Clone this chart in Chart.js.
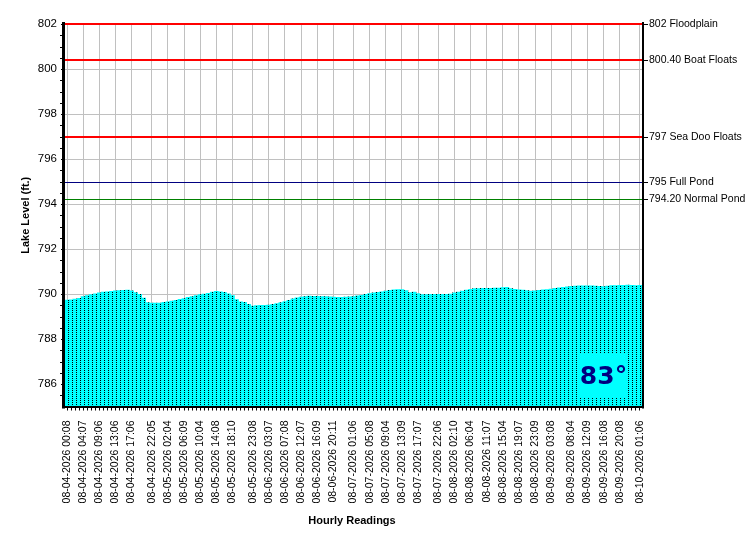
<!DOCTYPE html>
<html>
<head>
<meta charset="utf-8">
<script src="https://cdn.jsdelivr.net/npm/chart.js@4/dist/chart.umd.min.js"></script>
<style>
  body { margin: 0; background: #fff; }
  #wrap { width: 750px; height: 550px; }
</style>
</head>
<body>
<div id="wrap"><canvas id="lakeChart" width="750" height="550"></canvas></div>
<script>
// hourly lake level readings (ft.)
const readings = [
  789.73, 789.74, 789.77, 789.81, 789.88, 789.93, 789.97, 790.01, 790.05, 790.08,
  790.10, 790.12, 790.14, 790.15, 790.16, 790.17, 790.14, 790.06, 789.98, 789.82,
  789.62, 789.60, 789.60, 789.60, 789.63, 789.65, 789.68, 789.72, 789.76, 789.80,
  789.85, 789.89, 789.93, 789.97, 790.00, 790.03, 790.08, 790.12, 790.10, 790.07,
  790.01, 789.93, 789.75, 789.65, 789.63, 789.54, 789.46, 789.48, 789.50, 789.50,
  789.51, 789.54, 789.57, 789.62, 789.66, 789.72, 789.78, 789.83, 789.86, 789.89,
  789.91, 789.90, 789.90, 789.89, 789.88, 789.87, 789.86, 789.85, 789.85, 789.86,
  789.87, 789.89, 789.92, 789.94, 789.98, 790.02, 790.05, 790.07, 790.10, 790.13,
  790.16, 790.19, 790.20, 790.20, 790.15, 790.06, 790.08, 790.02, 789.97, 789.97,
  789.98, 789.98, 789.98, 789.98, 789.98, 790.00, 790.05, 790.09, 790.13, 790.17,
  790.21, 790.24, 790.24, 790.25, 790.25, 790.25, 790.26, 790.26, 790.28, 790.30,
  790.24, 790.21, 790.19, 790.17, 790.15, 790.13, 790.14, 790.16, 790.18, 790.20,
  790.22, 790.25, 790.27, 790.30, 790.32, 790.34, 790.35, 790.36, 790.36, 790.36,
  790.36, 790.35, 790.34, 790.33, 790.35, 790.37, 790.37, 790.38, 790.38, 790.40,
  790.38, 790.37, 790.38
];

// readings that carry a time label on the x axis
const tickIndex = [0, 4, 8, 12, 16, 21, 25, 29, 33, 37, 41, 46, 50, 54, 58, 62, 66,
  71, 75, 79, 83, 87, 92, 96, 100, 104, 108, 112, 116, 120, 125, 129, 133, 137, 142];
const tickLabels = [
  '08-04-2026 00:08', '08-04-2026 04:07', '08-04-2026 09:06', '08-04-2026 13:06',
  '08-04-2026 17:06', '08-04-2026 22:05', '08-05-2026 02:04', '08-05-2026 06:09',
  '08-05-2026 10:04', '08-05-2026 14:08', '08-05-2026 18:10', '08-05-2026 23:08',
  '08-06-2026 03:07', '08-06-2026 07:08', '08-06-2026 12:07', '08-06-2026 16:09',
  '08-06-2026 20:11', '08-07-2026 01:06', '08-07-2026 05:08', '08-07-2026 09:04',
  '08-07-2026 13:09', '08-07-2026 17:07', '08-07-2026 22:06', '08-08-2026 02:10',
  '08-08-2026 06:04', '08-08-2026 11:07', '08-08-2026 15:04', '08-08-2026 19:07',
  '08-08-2026 23:09', '08-09-2026 03:08', '08-09-2026 08:04', '08-09-2026 12:09',
  '08-09-2026 16:08', '08-09-2026 20:08', '08-10-2026 01:06'
];

const yTicks = [786, 788, 790, 792, 794, 796, 798, 800, 802];

// marker levels on the right
const levelValues = [802, 800.4, 797, 795, 794.2];
const levelNames = ['802 Floodplain', '800.40 Boat Floats', '797 Sea Doo Floats', '795 Full Pond', '794.20 Normal Pond'];
const waterTemp = '83°';

// styles
const levelColors = ['#ff0000', '#ff0000', '#ff0000', '#000080', '#008000'];
const levelWidths = [2, 2, 2, 1, 1];
const FONT = '"Liberation Sans", Arial, sans-serif';

// category list: one slot per reading, label only where the axis shows one
const categories = readings.map(() => '');
tickIndex.forEach((idx, i) => { categories[idx] = tickLabels[i]; });
const labelled = new Set(tickIndex);

// cyan fill with dotted dark columns, like the original bitmap
function dotPattern() {
  const c = document.createElement('canvas');
  c.width = 4; c.height = 2;
  const g = c.getContext('2d');
  g.fillStyle = '#00ffff';
  g.fillRect(0, 0, 4, 2);
  g.fillStyle = '#000000';
  g.fillRect(0, 0, 1, 1);
  return g.createPattern(c, 'repeat');
}

const overlay = {
  id: 'overlay',
  afterDatasetsDraw(chart) {
    const ctx = chart.ctx;
    const y = chart.scales.y;
    const a = chart.chartArea;
    ctx.save();
    // level lines
    levelValues.forEach((v, i) => {
      const py = Math.round(y.getPixelForValue(v));
      const off = levelWidths[i] % 2 ? 0.5 : 0;
      ctx.strokeStyle = levelColors[i];
      ctx.lineWidth = levelWidths[i];
      ctx.beginPath();
      ctx.moveTo(a.left, py + off);
      ctx.lineTo(a.right, py + off);
      ctx.stroke();
    });
    // temperature box
    ctx.fillStyle = '#00ffff';
    ctx.fillRect(579, 354, 49, 44);
    ctx.fillStyle = '#000080';
    ctx.font = 'bold 25px "DejaVu Sans", Verdana, sans-serif';
    ctx.textAlign = 'center';
    ctx.textBaseline = 'middle';
    ctx.fillText(waterTemp, 603.5, 377);
    ctx.restore();
  },
  afterDraw(chart) {
    const ctx = chart.ctx;
    const y = chart.scales.y;
    const a = chart.chartArea;
    ctx.save();
    ctx.fillStyle = '#000';
    // frame
    ctx.fillRect(a.left - 3, a.top - 2, 3, a.bottom - a.top + 4);
    ctx.fillRect(a.right, a.top - 2, 2, a.bottom - a.top + 4);
    ctx.fillRect(a.left - 3, Math.floor(a.bottom), a.right - a.left + 5, 2);
    // minor ticks on the left axis
    for (let v = 785.5; v < 802; v += 0.5) {
      if (yTicks.includes(v)) continue;
      ctx.fillRect(a.left - 5, Math.round(y.getPixelForValue(v)), 2, 1);
    }
    // right labels
    ctx.font = '10.5px ' + FONT;
    ctx.textAlign = 'left';
    ctx.textBaseline = 'middle';
    levelValues.forEach((v, i) => {
      const py = Math.round(y.getPixelForValue(v));
      ctx.fillRect(a.right + 2, py, 4, 1);
      ctx.fillText(levelNames[i], a.right + 7, py + 0.5);
    });
    // axis titles
    ctx.font = 'bold 11px ' + FONT;
    ctx.textAlign = 'center';
    ctx.fillText('Hourly Readings', 352, 521);
    ctx.translate(26, (a.top + a.bottom) / 2);
    ctx.rotate(-Math.PI / 2);
    ctx.fillText('Lake Level (ft.)', 0, 0);
    ctx.restore();
  }
};

const ctx = document.getElementById('lakeChart').getContext('2d');
new Chart(ctx, {
  type: 'bar',
  data: {
    labels: categories,
    datasets: [{
      label: 'Lake Level',
      data: readings,
      backgroundColor: dotPattern(),
      borderWidth: 0,
      barPercentage: 1,
      categoryPercentage: 1
    }]
  },
  options: {
    responsive: false,
    animation: false,
    devicePixelRatio: 1,
    layout: { padding: { top: 24, right: 108, bottom: 0, left: 0 } },
    plugins: { legend: { display: false }, tooltip: { enabled: false } },
    scales: {
      x: {
        offset: true,
        afterFit(s) { s.height = 143.5; },
        grid: {
          offset: false,
          color: c => labelled.has(c.index) ? '#c0c0c0' : 'rgba(0,0,0,0)',
          tickColor: '#000',
          tickLength: 4
        },
        border: { display: false },
        ticks: {
          autoSkip: false,
          minRotation: 90,
          maxRotation: 90,
          padding: 10,
          color: '#000',
          font: { family: FONT, size: 10.5 },
          callback: (v, i) => categories[i]
        }
      },
      y: {
        min: 785,
        max: 802,
        beginAtZero: false,
        afterFit(s) { s.width = 65; },
        afterBuildTicks(s) { s.ticks = yTicks.map(v => ({ value: v })); },
        grid: { color: '#c0c0c0', tickColor: '#000', tickLength: 4 },
        border: { display: false },
        ticks: {
          padding: 4,
          color: '#000',
          font: { family: FONT, size: 11.5 }
        }
      }
    }
  },
  plugins: [overlay]
});
</script>
</body>
</html>
